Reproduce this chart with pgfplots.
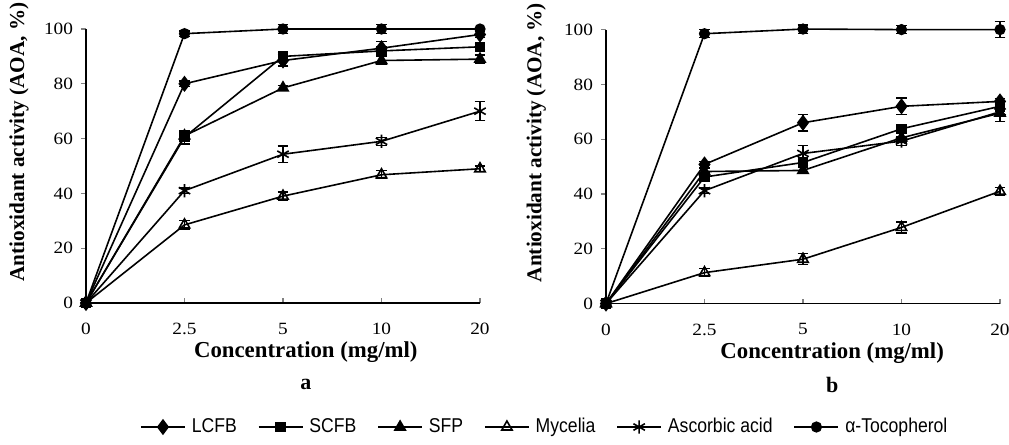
\documentclass[border=0pt]{standalone}
\usepackage{fontspec}
\setmainfont[FakeStretch=1.12]{Liberation Serif}
\newfontfamily\labfont{Liberation Serif}
\newfontfamily\legfont[FakeStretch=0.88]{Liberation Sans}
\usepackage{pgfplots}
\pgfplotsset{compat=1.18}
\pgfplotsset{
  panel/.style={
    scale only axis, width=197pt, height=137pt,
    xmin=0, xmax=4, ymin=0, ymax=100,
    axis lines*=left,
    axis line style={line width=0.6pt},
    clip=false,
    xtick={0,1,2,3,4}, xticklabels={0,2.5,5,10,20},
    ytick={0,20,40,60,80,100},
    tick align=inside,
    major tick length=2.5pt,
    ytick style={xshift=-2.5pt, line width=0.6pt},
    xtick style={line width=0.6pt},
    /pgf/number format/assume math mode=true,
    tick label style={font=\fontsize{8.6}{10}\selectfont},
    xticklabel style={yshift=-6.5pt},
    yticklabel style={xshift=-3pt},
    every axis plot/.append style={black, line width=0.8pt,
      error bars/y dir=both, error bars/y explicit,
      error bars/error bar style={line width=0.6pt, solid},
      error bars/error mark options={rotate=90, mark size=2.7pt, line width=0.6pt}},
  },
  sLCFB/.style={mark=diamond*, mark size=3.4pt, mark options={fill=black, solid}},
  sSCFB/.style={mark=square*, mark size=2.2pt, mark options={fill=black, solid}},
  sSFP/.style={mark=triangle*, mark size=3pt, mark options={fill=black, solid}},
  sMyc/.style={mark=triangle, mark size=3pt, mark options={fill=white, solid}},
  sAsc/.style={mark=asterisk, mark size=3.3pt, mark options={solid}},
  sToc/.style={mark=*, mark size=2.4pt, mark options={fill=black, solid}},
}
\begin{document}
\begin{tikzpicture}
\path[use as bounding box] (-43pt,-71pt) rectangle (461.5pt,151.5pt);
% ---------------- panel a
\begin{axis}[panel, name=A, at={(0,0)}, anchor=south west,
  xlabel={\labfont\bfseries\fontsize{11.4}{13}\selectfont Concentration (mg/ml)},
  xlabel style={at={(axis description cs:0.558,-0.179)}, anchor=center},
  ylabel={\labfont\bfseries\fontsize{10.6}{12}\selectfont Antioxidant activity (AOA, \%)},
  ylabel style={at={(axis description cs:-0.17,0.077)}, anchor=west, inner sep=0pt},
  legend style={at={(axis description cs:1.167,-0.4526)}, anchor=center, draw=none, fill=none,
    legend columns=6, font=\legfont\fontsize{10}{11}\selectfont,
    /tikz/every even column/.append style={column sep=8.5pt},
    /tikz/every odd column/.append style={column sep=1pt}},
  legend image code/.code={\draw[mark repeat=2,mark phase=2] plot coordinates {(0pt,0pt) (11pt,0pt) (22pt,0pt)};},
]
\addplot[sLCFB] coordinates {(0,0) +- (0,0) (1,80) +- (0,1) (2,88.5) +- (0,2) (3,93) +- (0,2.5) (4,98) +- (0,1)};
\addlegendentry{LCFB}
\addplot[sSCFB] coordinates {(0,0) +- (0,0) (1,60.5) +- (0,2.5) (2,90) +- (0,1.5) (3,92) +- (0,1) (4,93.5) +- (0,1)};
\addlegendentry{SCFB}
\addplot[sSFP] coordinates {(0,0) +- (0,0) (1,61) +- (0,1.5) (2,78.5) +- (0,1) (3,88.5) +- (0,1.5) (4,89) +- (0,1.5)};
\addlegendentry{SFP}
\addplot[sMyc] coordinates {(0,0) +- (0,0) (1,28.5) +- (0,1.5) (2,39) +- (0,1.5) (3,46.8) +- (0,1.5) (4,49) +- (0,1)};
\addlegendentry{Mycelia}
\addplot[sAsc] coordinates {(0,0) +- (0,0) (1,41) +- (0,1) (2,54.3) +- (0,3) (3,59) +- (0,1.5) (4,70) +- (0,3.5)};
\addlegendentry{Ascorbic acid}
\addplot[sToc] coordinates {(0,0) +- (0,0) (1,98.3) +- (0,1) (2,100) +- (0,1.5) (3,100) +- (0,1.5) (4,100) +- (0,0.5)};
\addlegendentry{α-Tocopherol}
\node[font=\labfont\bfseries\fontsize{11}{12}\selectfont] at (axis description cs:0.558,-0.296) {a};
\end{axis}
% ---------------- panel b
\begin{axis}[panel, name=B, at={(260pt,-0.3pt)}, anchor=south west,
  xlabel={\labfont\bfseries\fontsize{11.4}{13}\selectfont Concentration (mg/ml)},
  xlabel style={at={(axis description cs:0.574,-0.179)}, anchor=center},
  ylabel={\labfont\bfseries\fontsize{10.6}{12}\selectfont Antioxidant activity (AOA, \%)},
  ylabel style={at={(axis description cs:-0.177,0.077)}, anchor=west, inner sep=0pt},
]
\addplot[sLCFB] coordinates {(0,0) +- (0,0) (1,50.8) +- (0,1) (2,66) +- (0,3) (3,72) +- (0,3) (4,73.8) +- (0,1)};
\addplot[sSCFB] coordinates {(0,0) +- (0,0) (1,46.2) +- (0,1) (2,51.5) +- (0,1) (3,63.8) +- (0,1) (4,72) +- (0,1)};
\addplot[sSFP] coordinates {(0,0) +- (0,0) (1,48.2) +- (0,1) (2,48.6) +- (0,1) (3,60.5) +- (0,1.5) (4,69.5) +- (0,3)};
\addplot[sMyc] coordinates {(0,0) +- (0,0) (1,11.3) +- (0,1.5) (2,16.2) +- (0,2) (3,27.8) +- (0,2) (4,41) +- (0,1.5)};
\addplot[sAsc] coordinates {(0,0) +- (0,0) (1,41.2) +- (0,1) (2,54.8) +- (0,3) (3,59.3) +- (0,1.5) (4,70) +- (0,1)};
\addplot[sToc] coordinates {(0,0) +- (0,0) (1,98.5) +- (0,1.5) (2,100.2) +- (0,1.5) (3,100) +- (0,1.5) (4,100) +- (0,3)};
\node[font=\labfont\bfseries\fontsize{11}{12}\selectfont] at (axis description cs:0.574,-0.296) {b};
\end{axis}
\end{tikzpicture}
\end{document}
